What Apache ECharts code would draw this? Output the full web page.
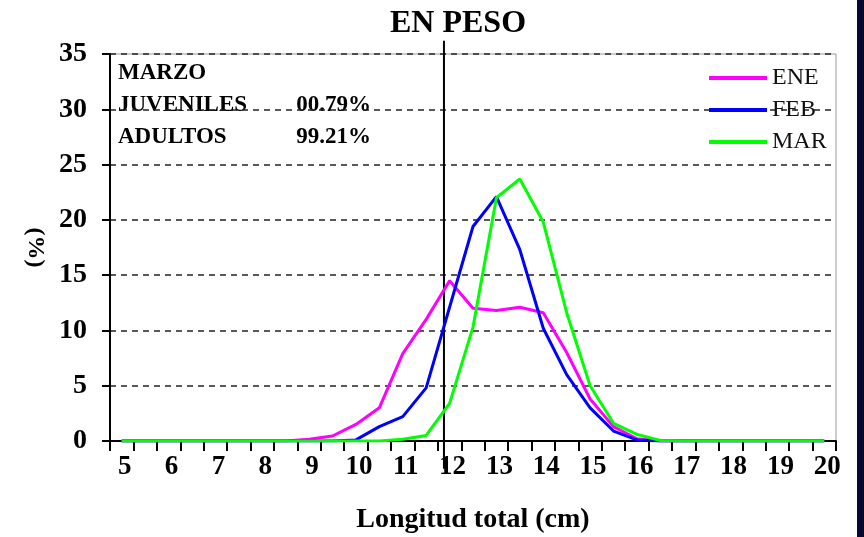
<!DOCTYPE html>
<html><head><meta charset="utf-8">
<script src="https://cdn.jsdelivr.net/npm/echarts/dist/echarts.min.js"></script>
<style>
html,body{margin:0;padding:0;background:#fff;}
#c{width:864px;height:537px;position:absolute;left:0;top:0;}
#band{position:absolute;left:857px;top:0;width:7px;height:537px;background:#08082e;}
</style></head><body>
<div id="c"></div><div id="band"></div>
<script>
// Longitud total (cm), class marks every 0.5 cm
const LENGTH_CM = [5,5.5,6,6.5,7,7.5,8,8.5,9,9.5,10,10.5,11,11.5,12,12.5,13,13.5,14,14.5,15,15.5,16,16.5,17,17.5,18,18.5,19,19.5,20];
const ENE = [0,0,0,0,0,0,0,0,0.15,0.45,1.5,3.0,7.9,11.0,14.5,12.0,11.8,12.1,11.6,8.0,3.8,1.3,0.2,0,0,0,0,0,0,0,0];
const FEB = [0,0,0,0,0,0,0,0,0,0,0.1,1.3,2.2,4.8,12.1,19.4,22.1,17.3,10.2,6.0,3.0,0.9,0.1,0,0,0,0,0,0,0,0];
const MAR = [0,0,0,0,0,0,0,0,0,0,0,0,0.15,0.5,3.4,10.3,22.0,23.7,19.8,11.6,5.0,1.6,0.6,0.05,0,0,0,0,0,0,0];
const SERIES_NAMES = ['ENE','FEB','MAR'];
const SERIES_COLORS = ['#ff00ff','#0000ff','#00ff00'];
const Y_TICKS = [0,5,10,15,20,25,30,35];
const X_TICK_LABELS = [5,6,7,8,9,10,11,12,13,14,15,16,17,18,19,20];
// reference (division juveniles/adultos) line position and vertical extent in data units
const REF_X = 11.88;
const REF_Y = [36.2, -2.5];
const NOTE_TITLE = 'MARZO';
const NOTE_ROWS = [['JUVENILES','00.79%'],['ADULTOS','99.21%']];

const FONT = "'Liberation Serif','Times New Roman',serif";
const pairs = arr => LENGTH_CM.map((x,i)=>[x,arr[i]]);
const chart = echarts.init(document.getElementById('c'), null, {renderer:'canvas'});

const series = [{
  type:'line', name:'ref', data: REF_Y.map(y=>[REF_X,y]), clip:false, symbol:'none', silent:true,
  lineStyle:{color:'#000', width:2}, z:1, xAxisIndex:0, yAxisIndex:0
}];
[ENE,FEB,MAR].forEach((d,i)=>series.push({
  type:'line', name:SERIES_NAMES[i], data:pairs(d), symbol:'none', smooth:false,
  lineStyle:{color:SERIES_COLORS[i], width:3}, itemStyle:{color:SERIES_COLORS[i]}, z:2+i,
  xAxisIndex:0, yAxisIndex:0
}));

const noteStyle = {fontFamily:FONT, fontWeight:'bold', fontSize:23, fill:'#000'};
const graphic = [
  {type:'text', left:118, top:62, style:Object.assign({text:NOTE_TITLE}, noteStyle)},
  {type:'text', left:118, top:94, style:Object.assign({text:NOTE_ROWS[0][0]}, noteStyle)},
  {type:'text', right:493, top:94, style:Object.assign({text:NOTE_ROWS[0][1]}, noteStyle)},
  {type:'text', left:118, top:126, style:Object.assign({text:NOTE_ROWS[1][0]}, noteStyle)},
  {type:'text', right:493, top:126, style:Object.assign({text:NOTE_ROWS[1][1]}, noteStyle)}
];

chart.setOption({
  animation:false,
  backgroundColor:'#fff',
  title:{text:'EN PESO', left:453, top:3, textAlign:'center',
    textStyle:{fontFamily:FONT, fontWeight:'bold', fontSize:32, color:'#000'}},
  legend:{data:SERIES_NAMES, orient:'vertical', left:704, top:61, itemWidth:58, itemHeight:4,
    itemGap:8, icon:'rect', textStyle:{fontFamily:FONT, fontSize:24, color:'#111', lineHeight:24}},
  grid:{left:110, right:28, top:54, bottom:96, show:true, borderColor:'#999', borderWidth:1,
    backgroundColor:'transparent', outerBoundsMode:'none', containLabel:false},
  xAxis:[{
    type:'value', min:4.75, max:20.25, interval:0.5, position:'bottom',
    axisLine:{onZero:false, lineStyle:{color:'#000', width:2}},
    axisTick:{show:true, length:10, lineStyle:{color:'#000', width:2}},
    axisLabel:{show:false}, splitLine:{show:false},
    name:'Longitud total (cm)', nameLocation:'middle', nameGap:65,
    nameTextStyle:{fontFamily:FONT, fontWeight:'bold', fontSize:28, color:'#000'}
  },{
    type:'value', min:4.75, max:20.25, interval:0.25, position:'bottom',
    axisLine:{show:false}, axisTick:{show:false}, splitLine:{show:false},
    axisLabel:{margin:13, padding:[0,0,0,6], fontFamily:FONT, fontWeight:'bold', fontSize:27, color:'#000',
      formatter:v=> X_TICK_LABELS.indexOf(v)>=0 ? String(v) : ''}
  }],
  yAxis:{
    type:'value', min:Y_TICKS[0], max:Y_TICKS[Y_TICKS.length-1], interval:5,
    axisLine:{show:true, lineStyle:{color:'#000', width:2}},
    axisTick:{show:true, length:8, lineStyle:{color:'#000', width:2}},
    axisLabel:{margin:23, fontFamily:FONT, fontWeight:'bold', fontSize:28, color:'#000'},
    splitLine:{show:true, lineStyle:{color:'#222', type:[6,5], width:1.5}},
    name:'(%)', nameLocation:'middle', nameRotate:-90, nameGap:63,
    nameTextStyle:{fontFamily:FONT, fontWeight:'bold', fontSize:24, color:'#000'}
  },
  graphic:graphic,
  series:series
});
</script>
</body></html>
